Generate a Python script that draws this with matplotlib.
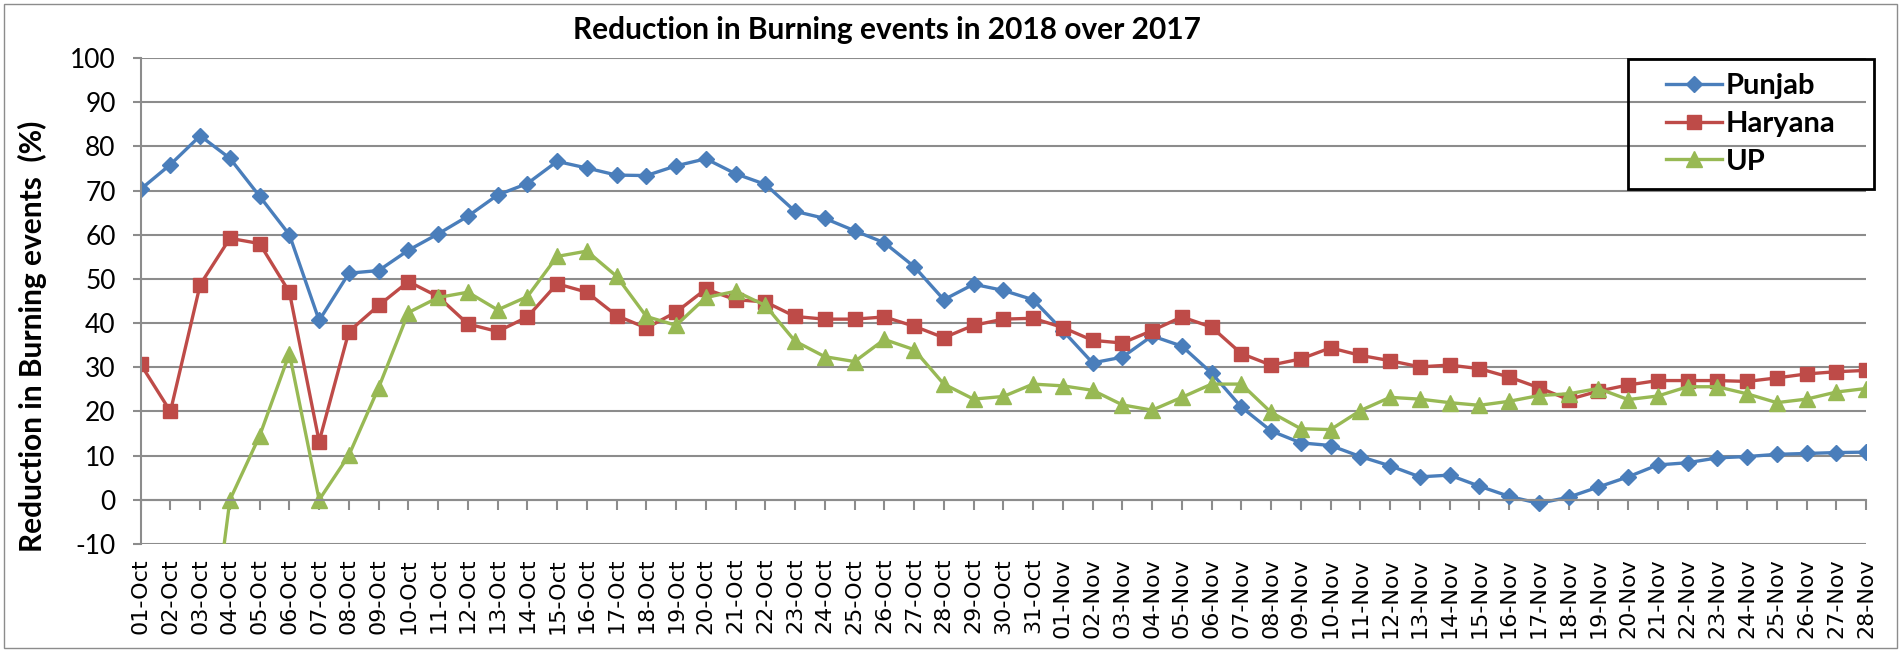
import numpy as np
import pandas as pd
import matplotlib
matplotlib.use('Agg')
import matplotlib.pyplot as plt
from matplotlib.patches import Rectangle

plt.rcParams['axes.unicode_minus'] = False

# Daily reduction (%) in burning events, 2018 over 2017
dates = list(pd.date_range('2018-10-01', '2018-11-28').strftime('%d-%b'))

punjab = [70.3, 75.9, 82.4, 77.3, 68.7, 60.0, 40.6, 51.3, 51.9, 56.5, 60.2, 64.2, 69.0, 71.6, 76.6, 75.1,
          73.5, 73.4, 75.6, 77.2, 73.8, 71.4, 65.3, 63.7, 60.9, 58.2, 52.8, 45.3, 48.8, 47.4, 45.3,
          38.3, 31.0, 32.3, 37.1, 34.8, 28.7, 21.0, 15.6, 12.9, 12.3, 9.8, 7.7, 5.2, 5.6, 3.1, 0.8,
          -0.8, 0.6, 2.9, 5.2, 7.9, 8.4, 9.5, 9.8, 10.3, 10.5, 10.7, 10.8]
haryana = [30.7, 20.0, 48.7, 59.2, 58.0, 47.0, 13.2, 38.1, 44.0, 49.4, 46.0, 39.8, 38.1, 41.4, 48.9, 47.0,
           41.7, 38.9, 42.5, 47.7, 45.3, 44.8, 41.5, 40.9, 40.9, 41.4, 39.3, 36.7, 39.5, 40.9, 41.1,
           39.0, 36.1, 35.5, 38.3, 41.4, 39.1, 33.1, 30.5, 31.9, 34.4, 32.7, 31.5, 30.1, 30.5, 29.7, 27.8,
           25.4, 22.7, 24.6, 26.0, 27.0, 27.0, 27.0, 26.8, 27.6, 28.5, 29.0, 29.3]
up = [np.nan, np.nan, -52.0, 0.0, 14.5, 33.1, 0.0, 10.1, 25.4, 42.4, 45.8, 47.0, 43.0, 46.0, 55.1, 56.3,
      50.6, 41.5, 39.5, 45.8, 47.2, 44.0, 35.9, 32.4, 31.3, 36.3, 34.0, 26.2, 22.8, 23.4, 26.2,
      25.8, 24.8, 21.5, 20.3, 23.2, 26.2, 26.2, 19.8, 16.1, 15.9, 20.2, 23.2, 22.8, 22.0, 21.4, 22.3,
      23.6, 24.0, 25.2, 22.7, 23.5, 25.6, 25.6, 24.0, 22.0, 22.8, 24.4, 25.2]

x = np.arange(len(dates))
grid_col = '#8c8c8c'

fig = plt.figure(figsize=(19.01, 6.52), dpi=100)
ax = fig.add_axes([0.074, 0.1656, 0.9076, 0.7454])

ax.plot(x, punjab, color='#4A7EBB', lw=2.4, marker='D', ms=8.5, label='Punjab')
ax.plot(x, haryana, color='#BE4B48', lw=2.4, marker='s', ms=10, label='Haryana')
ax.plot(x, up, color='#98B954', lw=2.4, marker='^', ms=11, label='UP')

ax.set_xlim(0, len(dates) - 1)
ax.set_ylim(-10, 100)
ax.set_yticks(np.arange(-10, 101, 10))
ax.yaxis.grid(True, color=grid_col, lw=1.5)
ax.set_axisbelow(True)

for s in ['top', 'right']:
    ax.spines[s].set_visible(False)
ax.spines['left'].set_color(grid_col)
ax.spines['left'].set_linewidth(1.5)
# category axis crosses at zero, labels stay at the bottom
ax.spines['bottom'].set_position(('data', 0))
ax.spines['bottom'].set_color(grid_col)
ax.spines['bottom'].set_linewidth(1.5)
ax.set_xticks(x)
ax.tick_params(axis='x', direction='out', length=7, width=1.5, color=grid_col, labelbottom=False)
ax.tick_params(axis='y', direction='out', length=6, width=1.5, color=grid_col, pad=12, labelsize=19)
for t in ax.get_yticklabels():
    t.set_fontfamily('Lato')

sec = ax.secondary_xaxis(0.0)
sec.set_xticks(x, dates, rotation=90, fontsize=16, fontfamily='DejaVu Sans')
sec.tick_params(length=0, pad=10)
sec.spines['bottom'].set_visible(False)

fig.text(0.017, 0.4847, 'Reduction in Burning events  (%)', rotation=90, ha='center', va='center',
         fontsize=21.5, fontweight='bold', fontfamily='Lato')
fig.text(0.4665, 0.9397, 'Reduction in Burning events in 2018 over 2017', ha='center', va='baseline',
         fontsize=21.5, fontweight='bold', fontfamily='Lato')

# legend box drawn separately, legend centred in it
fig.patches.append(Rectangle((0.8564, 0.7101), 0.1294, 0.1994, transform=fig.transFigure,
                             fill=False, edgecolor='black', lw=2))
fig.legend(loc='center', bbox_to_anchor=(0.9211, 0.8098), frameon=False,
           prop={'family': 'Lato', 'weight': 'bold', 'size': 21}, handlelength=1.9,
           handletextpad=0.15, labelspacing=0.4)

# outer chart border
fig.patches.append(Rectangle((0.002, 0.006), 0.996, 0.988, transform=fig.transFigure,
                             fill=False, edgecolor='#8c8c8c', lw=1))

fig.savefig('out.png', dpi=100)
